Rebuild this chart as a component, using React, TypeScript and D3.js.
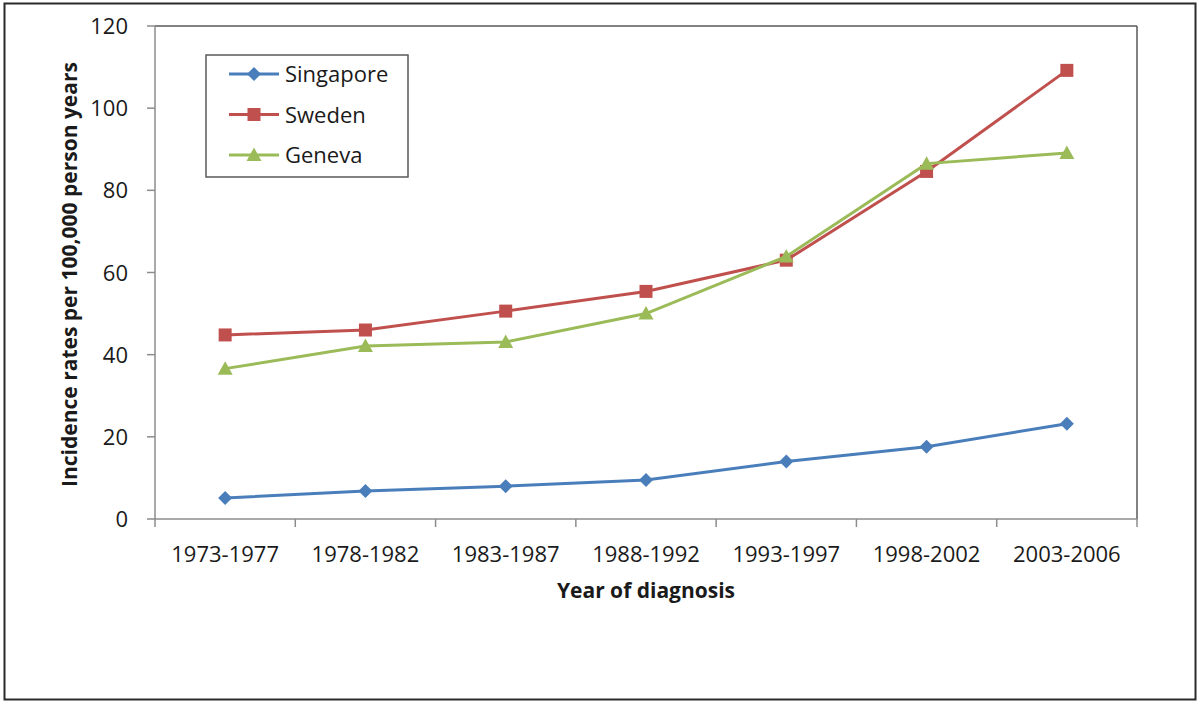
import React from "react";
import * as d3 from "d3";

const categories = ["1973-1977", "1978-1982", "1983-1987", "1988-1992", "1993-1997", "1998-2002", "2003-2006"];
const singapore = [5.1, 6.8, 8.0, 9.5, 14.0, 17.6, 23.2];
const sweden = [44.8, 46.0, 50.6, 55.4, 63.0, 84.6, 109.2];
const geneva = [36.6, 42.1, 43.1, 50.0, 63.9, 86.5, 89.1];
const yTicks = [0, 20, 40, 60, 80, 100, 120];

const seriesList = [
  { name: "Singapore", values: singapore, color: "#4A7EBB", marker: "diamond" },
  { name: "Sweden", values: sweden, color: "#C0504D", marker: "square" },
  { name: "Geneva", values: geneva, color: "#9BBB59", marker: "triangle" },
];

const W = 1200;
const H = 705;
const left = 155;
const right = 1137;
const top = 26;
const bottom = 519;
const FONT = "'Open Sans', 'DejaVu Sans', sans-serif";

function Marker({ type, x, y, color }: { type: string; x: number; y: number; color: string }) {
  if (type === "diamond") {
    const s = 7;
    return <path d={`M${x},${y - s}L${x + s},${y}L${x},${y + s}L${x - s},${y}Z`} fill={color} />;
  }
  if (type === "square") {
    const s = 6.5;
    return <rect x={x - s} y={y - s} width={2 * s} height={2 * s} fill={color} />;
  }
  const s = 7.5;
  return <path d={`M${x},${y - s}L${x + s},${y + s * 0.8}L${x - s},${y + s * 0.8}Z`} fill={color} />;
}

export default function App() {
  const x = d3.scaleBand<string>().domain(categories).range([left, right]).paddingInner(0).paddingOuter(0);
  const y = d3.scaleLinear().domain([0, 120]).range([bottom, top]);
  const cx = (c: string) => (x(c) as number) + x.bandwidth() / 2;
  const line = d3
    .line<number>()
    .x((_, i) => cx(categories[i]))
    .y((d) => y(d));
  const bounds = [...categories.map((c) => x(c) as number), right];

  return (
    <svg width={W} height={H} style={{ position: "absolute", left: 0, top: 0 }}>
      <rect x={0} y={0} width={W} height={H} fill="#fff" />
      <rect x={4.5} y={3.5} width={1191} height={696} fill="none" stroke="#2b2b2b" strokeWidth={2} />
      {/* plot area border */}
      <line x1={left} y1={top} x2={right} y2={top} stroke="#595959" strokeWidth={1.5} />
      <line x1={right} y1={top} x2={right} y2={bottom} stroke="#595959" strokeWidth={1.5} />
      {/* y axis */}
      <line x1={left} y1={top} x2={left} y2={bottom} stroke="#8c8c8c" strokeWidth={1.5} />
      {yTicks.map((t) => (
        <g key={t}>
          <line x1={left - 8} x2={left} y1={y(t)} y2={y(t)} stroke="#8c8c8c" strokeWidth={1.5} />
          <text x={128} y={y(t) + 8} textAnchor="end" fontFamily={FONT} fontSize={22} fill="#1a1a1a">
            {t}
          </text>
        </g>
      ))}
      {/* x axis */}
      <line x1={left} y1={bottom} x2={right} y2={bottom} stroke="#8c8c8c" strokeWidth={1.5} />
      {bounds.map((b, i) => (
        <line key={i} x1={b} x2={b} y1={bottom} y2={bottom + 8} stroke="#8c8c8c" strokeWidth={1.5} />
      ))}
      {categories.map((c) => (
        <text key={c} x={cx(c)} y={562} textAnchor="middle" fontFamily={FONT} fontSize={22} fill="#1a1a1a">
          {c}
        </text>
      ))}
      <text x={646} y={598} textAnchor="middle" fontFamily={FONT} fontSize={21} fontWeight="bold" fill="#1a1a1a">
        Year of diagnosis
      </text>
      <text
        transform={`translate(77,${(top + bottom) / 2 + 2}) rotate(-90)`}
        textAnchor="middle"
        fontFamily={FONT}
        fontSize={21}
        fontWeight="bold"
        fill="#1a1a1a"
      >
        Incidence rates per 100,000 person years
      </text>
      {/* series */}
      {seriesList.map((s) => (
        <g key={s.name}>
          <path d={line(s.values) as string} fill="none" stroke={s.color} strokeWidth={3} />
          {s.values.map((v, i) => (
            <Marker key={i} type={s.marker} x={cx(categories[i])} y={y(v)} color={s.color} />
          ))}
        </g>
      ))}
      {/* legend */}
      <rect x={206} y={55} width={202} height={122} fill="#fff" stroke="#595959" strokeWidth={1.5} />
      {seriesList.map((s, i) => {
        const ly = 74 + i * 40.5;
        return (
          <g key={s.name}>
            <line x1={229} x2={279} y1={ly} y2={ly} stroke={s.color} strokeWidth={3} />
            <Marker type={s.marker} x={254} y={ly} color={s.color} />
            <text x={285} y={ly + 8} fontFamily={FONT} fontSize={22} fill="#1a1a1a">
              {s.name}
            </text>
          </g>
        );
      })}
    </svg>
  );
}
